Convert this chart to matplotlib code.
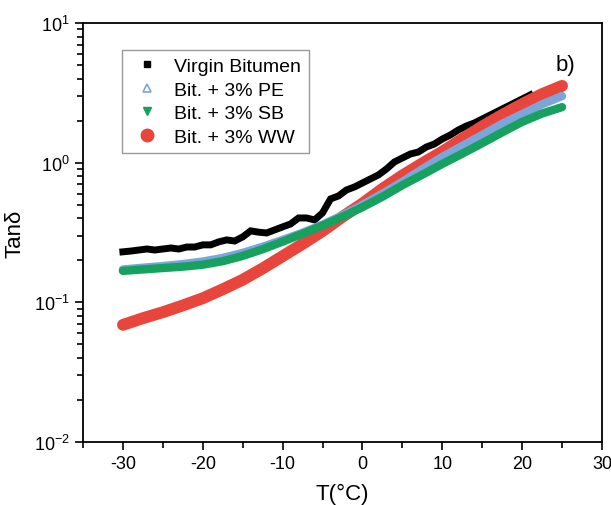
import matplotlib
matplotlib.use("Agg")
import matplotlib.pyplot as plt
from matplotlib.lines import Line2D
from matplotlib.ticker import MultipleLocator, LogLocator, NullFormatter

plt.rcParams['font.family'] = ['Liberation Sans', 'DejaVu Sans']
plt.rcParams['mathtext.fontset'] = 'custom'
plt.rcParams['mathtext.rm'] = 'Liberation Sans'
plt.rcParams['axes.unicode_minus'] = False

# data
t_virgin = [-30, -29, -28, -27, -26, -25, -24, -23, -22, -21, -20, -19, -18, -17,
            -16, -15, -14, -13, -12, -11, -10, -9, -8, -7, -6, -5, -4, -3, -2, -1,
            0, 1, 2, 3, 4, 5, 6, 7, 8, 9, 10, 11, 12, 13, 14, 15, 16, 17, 18, 19,
            20, 21]
tan_virgin = [0.230, 0.233, 0.237, 0.241, 0.237, 0.241, 0.245, 0.241, 0.249, 0.249,
              0.258, 0.258, 0.271, 0.280, 0.275, 0.294, 0.325, 0.318, 0.314, 0.330,
              0.347, 0.364, 0.402, 0.402, 0.389, 0.437, 0.550, 0.578, 0.638, 0.670,
              0.716, 0.765, 0.817, 0.901, 1.012, 1.081, 1.154, 1.193, 1.295, 1.361,
              1.478, 1.578, 1.714, 1.831, 1.923, 2.055, 2.195, 2.344, 2.504, 2.674,
              2.858, 3.053]

t_mod = [-30, -27.5, -25, -22.5, -20, -17.5, -15, -12.5, -10, -7.5, -5, -2.5,
         0, 2.5, 5, 7.5, 10, 12.5, 15, 17.5, 20, 22.5, 25]
tan_pe = [0.172, 0.177, 0.182, 0.188, 0.196, 0.208, 0.226, 0.250, 0.280, 0.315,
          0.360, 0.420, 0.500, 0.600, 0.730, 0.900, 1.10, 1.32, 1.58, 1.90, 2.23,
          2.62, 3.00]
tan_sb = [0.168, 0.172, 0.176, 0.180, 0.186, 0.197, 0.215, 0.240, 0.272, 0.310,
          0.355, 0.410, 0.480, 0.570, 0.690, 0.820, 0.98, 1.16, 1.38, 1.65, 1.96,
          2.25, 2.50]
tan_ww = [0.069, 0.077, 0.085, 0.095, 0.107, 0.124, 0.145, 0.175, 0.214, 0.262,
          0.324, 0.410, 0.510, 0.650, 0.810, 0.990, 1.20, 1.48, 1.82, 2.20, 2.63,
          3.10, 3.55]

labels = ['Virgin Bitumen', 'Bit. + 3% PE', 'Bit. + 3% SB', 'Bit. + 3% WW']
c_black = '#000000'
c_blue = '#7aa6dc'
c_green = '#17a15e'
c_red = '#e8453c'

fig = plt.figure(figsize=(6.11, 5.06), dpi=100)
ax = fig.add_axes([0.1358, 0.1245, 0.8495, 0.828])

ax.plot(t_virgin, tan_virgin, color=c_black, lw=5, solid_joinstyle='miter')
ax.plot(t_mod, tan_ww, color=c_red, lw=8.5, solid_capstyle='round')
ax.plot(t_mod, tan_pe, color=c_blue, lw=6, solid_capstyle='round')
ax.plot(t_mod, tan_sb, color=c_green, lw=6, solid_capstyle='round')

ax.set_yscale('log')
ax.set_xlim(-35, 30)
ax.set_ylim(1e-2, 1e1)
ax.xaxis.set_major_locator(MultipleLocator(10))
ax.xaxis.set_minor_locator(MultipleLocator(5))
ax.yaxis.set_major_locator(LogLocator(base=10, numticks=10))
ax.yaxis.set_minor_locator(LogLocator(base=10, subs=range(2, 10), numticks=20))
ax.yaxis.set_minor_formatter(NullFormatter())
ax.tick_params(which='both', direction='out', top=False, right=False,
               width=1.2, labelsize=13)
ax.tick_params(which='major', length=6)
ax.tick_params(which='minor', length=4)
for s in ax.spines.values():
    s.set_linewidth(1.3)

ax.set_xlabel('T(°C)', fontsize=16, labelpad=8)
ax.set_ylabel('Tanδ', fontsize=16, labelpad=6)

handles = [
    Line2D([], [], ls='none', marker='s', ms=5, color=c_black),
    Line2D([], [], ls='none', marker='^', ms=6, mfc='none', mec=c_blue, mew=1.2),
    Line2D([], [], ls='none', marker='v', ms=6, color=c_green),
    Line2D([], [], ls='none', marker='o', ms=9, color=c_red),
]
leg = ax.legend(handles, labels, loc='upper left', bbox_to_anchor=(0.075, 0.936),
                borderaxespad=0, fontsize=14, fancybox=False, framealpha=1,
                edgecolor='#999999', labelspacing=0.3, handlelength=1.75,
                handletextpad=0.55, borderpad=0.4)
leg.get_frame().set_linewidth(1.0)

ax.text(0.929, 0.902, 'b)', transform=ax.transAxes, fontsize=16,
        ha='center', va='center')

fig.savefig('out.png', dpi=100)
